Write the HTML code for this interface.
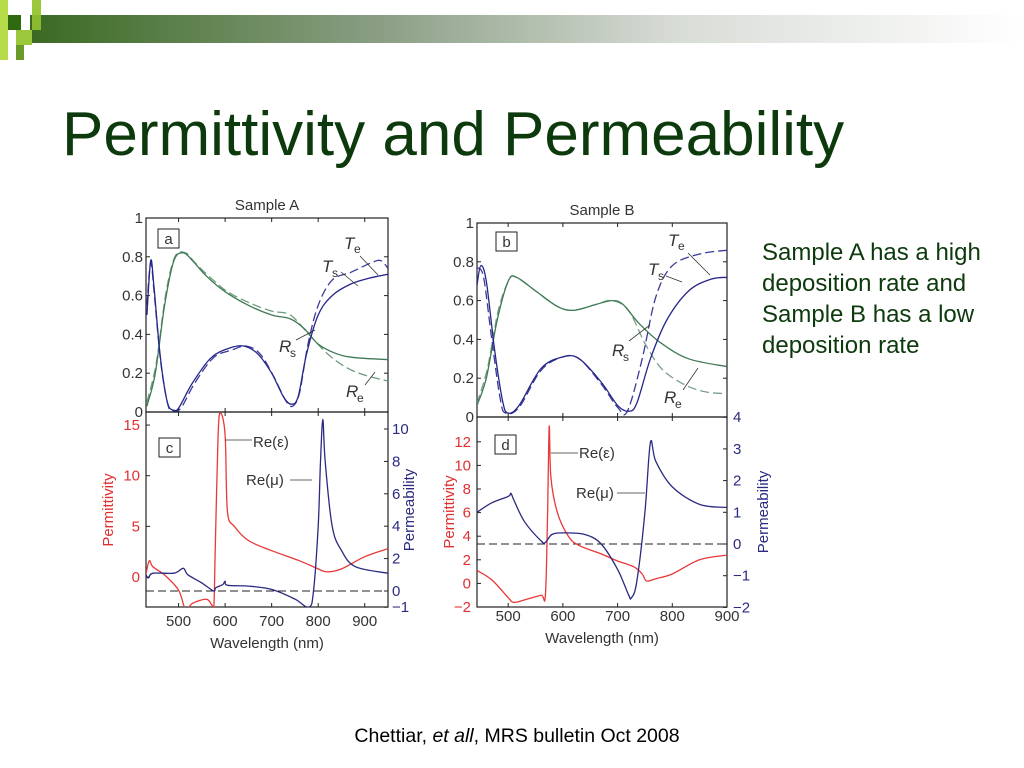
<!DOCTYPE html>
<html><head><meta charset="utf-8"><style>
body{margin:0;width:1024px;height:768px;background:#fff;overflow:hidden;font-family:"Liberation Sans",sans-serif}
svg{position:absolute;left:0;top:0}
</style></head><body>
<svg id="s" width="1024" height="768">
<defs>
<linearGradient id="g" x1="0" x2="1"><stop offset="0" stop-color="#3a6a22"/><stop offset="0.35" stop-color="#8a9e84"/><stop offset="0.65" stop-color="#d8dcd6"/><stop offset="1" stop-color="#fff"/></linearGradient>
</defs>
<g>
<rect x="30" y="15" width="994" height="28" fill="url(#g)"/>
<rect x="0" y="0" width="8" height="60" fill="#b6dc4a"/>
<rect x="32" y="0" width="9" height="15" fill="#9bc83a"/>
<rect x="8" y="15" width="13" height="15" fill="#2f6a10"/>
<rect x="32" y="15" width="9" height="15" fill="#8ab82e"/>
<rect x="16" y="30" width="16" height="15" fill="#9bc83a"/>
<rect x="16" y="45" width="8" height="15" fill="#6a9a2a"/>
</g>
<text x="62" y="155" font-size="62" fill="#0d3a0d">Permittivity and Permeability</text>
<g font-size="24" fill="#0d3a0d">
<text x="762" y="260">Sample A has a high</text>
<text x="762" y="291">deposition rate and</text>
<text x="762" y="322">Sample B has a low</text>
<text x="762" y="353">deposition rate</text>
</g>
<text x="517" y="742" font-size="19.5" text-anchor="middle" fill="#000">Chettiar, <tspan font-style="italic">et all</tspan>, MRS bulletin Oct 2008</text>
<g id="charts"></g>
</svg>
<script>
// Panel a (Sample A) data [wavelength, value]
const aTs=[[432,0.5],[440,0.78],[447,0.65],[460,0.3],[475,0.06],[487,0.01],[500,0.02],[530,0.15],[570,0.28],[610,0.33],[640,0.34],[670,0.30],[700,0.20],[725,0.08],[742,0.04],[757,0.08],[775,0.3],[800,0.5],[830,0.6],[870,0.66],[910,0.69],[950,0.71]];
const aTd=[[432,0.55],[440,0.77],[448,0.6],[462,0.25],[478,0.03],[490,0.01],[505,0.02],[535,0.15],[575,0.28],[615,0.32],[645,0.34],[675,0.30],[705,0.18],[730,0.06],[745,0.03],[760,0.1],[778,0.35],[800,0.55],[830,0.68],[870,0.72],[915,0.77],[935,0.78],[950,0.74]];
const aRs=[[432,0.03],[450,0.2],[470,0.55],[490,0.78],[510,0.82],[530,0.78],[560,0.7],[600,0.62],[650,0.55],[700,0.5],[740,0.48],[770,0.43],[800,0.35],[840,0.3],[880,0.28],[950,0.27]];
const aRd=[[432,0.05],[452,0.25],[472,0.6],[492,0.8],[515,0.82],[535,0.77],[565,0.7],[605,0.62],[655,0.56],[700,0.52],[740,0.5],[780,0.4],[820,0.3],[860,0.23],[900,0.19],[950,0.16]];
// Panel b (Sample B)
const bTs=[[443,0.68],[450,0.78],[460,0.7],[475,0.35],[490,0.08],[500,0.02],[520,0.06],[560,0.25],[600,0.31],[630,0.3],[670,0.18],[700,0.06],[720,0.03],[735,0.07],[760,0.3],[790,0.5],[830,0.65],[870,0.71],[900,0.72]];
const bTd=[[443,0.77],[455,0.72],[470,0.4],[485,0.1],[495,0.02],[520,0.05],[560,0.24],[600,0.31],[630,0.3],[670,0.17],[700,0.05],[718,0.03],[745,0.3],[770,0.62],[800,0.78],[850,0.84],[900,0.86]];
const bRs=[[443,0.06],[460,0.2],[480,0.5],[500,0.7],[515,0.72],[550,0.65],[590,0.57],[620,0.55],[660,0.58],[690,0.6],[710,0.58],[740,0.48],[780,0.38],[830,0.3],[900,0.26]];
const bRd=[[443,0.07],[462,0.25],[482,0.55],[502,0.71],[515,0.72],[550,0.65],[590,0.57],[620,0.55],[660,0.58],[690,0.6],[720,0.55],[750,0.38],[780,0.25],[820,0.17],[860,0.13],[900,0.12]];
// Panel c
const cEps=[[430,0.3],[437,1.6],[445,1.0],[470,0.2],[500,-1.3],[515,-3.2],[530,-2.6],[560,-2.2],[572,-2.8],[576,-2.8],[579,3],[585,14],[590,16.2],[600,14],[605,6.5],[620,5.0],[650,3.6],[700,2.6],[760,1.6],[800,0.8],[820,0.5],[850,0.8],[900,2.0],[950,2.8]];
const cMu=[[430,1.0],[435,0.8],[445,1.1],[490,1.1],[510,1.4],[520,1.0],[550,0.5],[575,0],[580,0.2],[595,0.4],[600,0.6],[605,0.35],[650,0.3],[700,0.1],[750,-0.5],[780,-1.0],[790,0],[800,4],[805,8],[810,10.6],[815,8],[830,4],[850,2.5],[880,1.5],[950,1.1]];
// Panel d
const dEps=[[443,1.1],[470,0.3],[500,-1.2],[510,-1.6],[530,-1.4],[560,-1.0],[568,-1.0],[572,6],[575,13.3],[578,9],[590,6],[610,4],[630,3.2],[670,2.5],[700,1.9],[730,1.4],[745,0.8],[753,0.2],[770,0.4],[800,0.8],[850,2.0],[900,2.4]];
const dMu=[[443,1.0],[470,1.3],[500,1.5],[505,1.6],[510,1.4],[530,0.7],[560,0.1],[568,0.05],[580,0.3],[600,0.35],[640,0.3],[670,0.0],[700,-0.8],[720,-1.6],[725,-1.7],[735,-1.2],[750,1.0],[760,3.2],[770,2.6],[800,1.8],[850,1.25],[900,1.15]];
const xTicks=[500,600,700,800,900];
const rTicks=[0,0.2,0.4,0.6,0.8,1];
const cLeftTicks=[0,5,10,15], cRightTicks=[-1,0,2,4,6,8,10];
const dLeftTicks=[-2,0,2,4,6,8,10,12], dRightTicks=[-2,-1,0,1,2,3,4];

const NS="http://www.w3.org/2000/svg";
const root=document.getElementById('charts');
function el(t,a,p){const e=document.createElementNS(NS,t);for(const k in a)e.setAttribute(k,a[k]);(p||root).appendChild(e);return e;}
function txt(x,y,s,a,p){const e=el('text',Object.assign({x:x,y:y,'font-size':15,fill:'#333'},a),p);e.textContent=s;return e;}
function path(pts,sx,sy){const P=pts.map(p=>[sx(p[0]),sy(p[1])]);
 let d='M'+P[0][0].toFixed(1)+','+P[0][1].toFixed(1);
 for(let i=0;i<P.length-1;i++){const p0=P[Math.max(0,i-1)],p1=P[i],p2=P[i+1],p3=P[Math.min(P.length-1,i+2)];
  const c1=[p1[0]+(p2[0]-p0[0])/6,p1[1]+(p2[1]-p0[1])/6],c2=[p2[0]-(p3[0]-p1[0])/6,p2[1]-(p3[1]-p1[1])/6];
  d+='C'+c1.map(v=>v.toFixed(1))+' '+c2.map(v=>v.toFixed(1))+' '+p2[0].toFixed(1)+','+p2[1].toFixed(1);}
 return d;}
let clipId=0;
function frame(x0,x1,y0,y1,name){const g=el('g',{});
 const id='c'+(clipId++);const cp=el('clipPath',{id:id},g);el('rect',{x:x0,y:y0,width:x1-x0,height:y1-y0},cp);
 el('rect',{x:x0,y:y0,width:x1-x0,height:y1-y0,fill:'none',stroke:'#222','stroke-width':1.2},g);return [g,id];}
function line(g,id,data,sx,sy,color,dash,name){const p=el('path',{d:path(data,sx,sy),fill:'none',stroke:color,'stroke-width':1.3,'clip-path':'url(#'+id+')'},g);
 if(dash)p.setAttribute('stroke-dasharray','9,4');
 }
function xtick(g,sx,y0,y1,lab,yl){xTicks.forEach(v=>{const x=sx(v);el('line',{x1:x,x2:x,y1:y1,y2:y1-4,stroke:'#222'},g);el('line',{x1:x,x2:x,y1:y0,y2:y0+4,stroke:'#222'},g);
 if(lab){const t=txt(x,yl,String(v),{'text-anchor':'middle'},g);}});}
function labelBox(g,x,y,s){el('rect',{x:x,y:y,width:21,height:19,fill:'#fff',stroke:'#222'},g);txt(x+10.5,y+15,s,{'text-anchor':'middle'},g);}
function callout(g,x1,y1,x2,y2){el('line',{x1:x1,y1:y1,x2:x2,y2:y2,stroke:'#333','stroke-width':0.8},g);}

// ---- Panel a
(function(){const X0=146,X1=388,Y0=218,Y1=412;const sx=w=>X0+(w-430)*(X1-X0)/520,sy=v=>Y1-v*(Y1-Y0);
 const [g,id]=frame(X0,X1,Y0,Y1,'panel-a');
 txt(267,210,'Sample A',{'text-anchor':'middle'},g);
 rTicks.forEach(v=>{const y=sy(v);el('line',{x1:X0,x2:X0+4,y1:y,y2:y,stroke:'#222'},g);el('line',{x1:X1,x2:X1-4,y1:y,y2:y,stroke:'#222'},g);txt(X0-3,y+5,String(v),{'text-anchor':'end'},g);});
 xtick(g,sx,Y0,Y1,false);
 line(g,id,aRd,sx,sy,'#6a9a7a',true,'re-dashed-a');line(g,id,aRs,sx,sy,'#3f7a55',false,'rs-line-a');
 line(g,id,aTd,sx,sy,'#3a3a9a',true,'te-dashed-a');line(g,id,aTs,sx,sy,'#26268a',false,'ts-line-a');
 labelBox(g,158,229,'a');
 txt(344,249,'T',{'font-style':'italic','font-size':17},g);txt(354,253,'e',{'font-size':12},g);
 txt(322,272,'T',{'font-style':'italic','font-size':17},g);txt(332,277,'s',{'font-size':12},g);
 txt(279,352,'R',{'font-style':'italic','font-size':17},g);txt(290,357,'s',{'font-size':12},g);
 txt(346,397,'R',{'font-style':'italic','font-size':17},g);txt(357,402,'e',{'font-size':12},g);
 callout(g,360,256,378,275);callout(g,341,272,358,286);callout(g,296,340,315,330);callout(g,365,385,375,372);
})();
// ---- Panel b
(function(){const X0=477,X1=727,Y0=223,Y1=417;const sx=w=>X0+(w-443)*(X1-X0)/457,sy=v=>Y1-v*(Y1-Y0);
 const [g,id]=frame(X0,X1,Y0,Y1,'panel-b');
 txt(602,215,'Sample B',{'text-anchor':'middle'},g);
 rTicks.forEach(v=>{const y=sy(v);el('line',{x1:X0,x2:X0+4,y1:y,y2:y,stroke:'#222'},g);el('line',{x1:X1,x2:X1-4,y1:y,y2:y,stroke:'#222'},g);txt(X0-3,y+5,String(v),{'text-anchor':'end'},g);});
 xtick(g,sx,Y0,Y1,false);
 line(g,id,bRd,sx,sy,'#7aa08a',true,'re-dashed-b');line(g,id,bRs,sx,sy,'#3f7a55',false,'rs-line-b');
 line(g,id,bTd,sx,sy,'#3a3a9a',true,'te-dashed-b');line(g,id,bTs,sx,sy,'#26268a',false,'ts-line-b');
 labelBox(g,496,232,'b');
 txt(668,246,'T',{'font-style':'italic','font-size':17},g);txt(678,250,'e',{'font-size':12},g);
 txt(648,275,'T',{'font-style':'italic','font-size':17},g);txt(658,280,'s',{'font-size':12},g);
 txt(612,356,'R',{'font-style':'italic','font-size':17},g);txt(623,361,'s',{'font-size':12},g);
 txt(664,403,'R',{'font-style':'italic','font-size':17},g);txt(675,408,'e',{'font-size':12},g);
 callout(g,688,253,710,275);callout(g,666,276,682,282);callout(g,629,341,650,325);callout(g,683,390,698,368);
})();
// ---- Panel c
(function(){const X0=146,X1=388,Y0=412,Y1=607;const sx=w=>X0+(w-430)*(X1-X0)/520;
 const sl=v=>577-v*10.13, sr=v=>591-v*16.2;
 const [g,id]=frame(X0,X1,Y0,Y1,'panel-c');
 cLeftTicks.forEach(v=>{const y=sl(v);el('line',{x1:X0,x2:X0+4,y1:y,y2:y,stroke:'#222'},g);txt(X0-6,y+5,String(v),{'text-anchor':'end',fill:'#e03030'},g);});
 cRightTicks.forEach(v=>{const y=sr(v);el('line',{x1:X1,x2:X1-4,y1:y,y2:y,stroke:'#222'},g);txt(X1+4,y+5,v<0?'\u2212'+(-v):String(v),{fill:'#2a2a80'},g);});
 xtick(g,sx,Y0,Y1,true,626);
 el('line',{x1:X0,x2:X1,y1:sr(0),y2:sr(0),stroke:'#222','stroke-dasharray':'8,4'},g);
 line(g,id,cEps,sx,sl,'#e83838',false,'permittivity-line-c');line(g,id,cMu,sx,sr,'#2a2a80',false,'permeability-line-c');
 labelBox(g,159,438,'c');
 txt(253,447,'Re(\u03b5)',{},g);callout(g,225,440,252,440);
 txt(246,485,'Re(\u03bc)',{},g);callout(g,290,480,312,480);
 txt(267,648,'Wavelength (nm)',{'text-anchor':'middle'},g);
 txt(0,0,'Permittivity',{transform:'translate(113,510) rotate(-90)','text-anchor':'middle',fill:'#e03030'},g);
 txt(0,0,'Permeability',{transform:'translate(414,510) rotate(-90)','text-anchor':'middle',fill:'#2a2a80'},g);
})();
// ---- Panel d
(function(){const X0=477,X1=727,Y0=417,Y1=607;const sx=w=>X0+(w-443)*(X1-X0)/457;
 const sl=v=>583.4-v*11.8, sr=v=>544-v*31.7;
 const [g,id]=frame(X0,X1,Y0,Y1,'panel-d');
 dLeftTicks.forEach(v=>{const y=sl(v);el('line',{x1:X0,x2:X0+4,y1:y,y2:y,stroke:'#222'},g);txt(X0-6,y+5,v<0?'\u2212'+(-v):String(v),{'text-anchor':'end',fill:'#e03030'},g);});
 dRightTicks.forEach(v=>{const y=sr(v);el('line',{x1:X1,x2:X1-4,y1:y,y2:y,stroke:'#222'},g);txt(X1+6,y+5,v<0?'\u2212'+(-v):String(v),{fill:'#2a2a80'},g);});
 xtick(g,sx,Y0,Y1,true,621);
 el('line',{x1:X0,x2:X1,y1:sr(0),y2:sr(0),stroke:'#222','stroke-dasharray':'8,4'},g);
 line(g,id,dEps,sx,sl,'#e83838',false,'permittivity-line-d');line(g,id,dMu,sx,sr,'#2a2a80',false,'permeability-line-d');
 labelBox(g,495,435,'d');
 txt(579,458,'Re(\u03b5)',{},g);callout(g,551,453,578,453);
 txt(576,498,'Re(\u03bc)',{},g);callout(g,617,493,645,493);
 txt(602,643,'Wavelength (nm)',{'text-anchor':'middle'},g);
 txt(0,0,'Permittivity',{transform:'translate(454,512) rotate(-90)','text-anchor':'middle',fill:'#e03030'},g);
 txt(0,0,'Permeability',{transform:'translate(768,512) rotate(-90)','text-anchor':'middle',fill:'#2a2a80'},g);
})();
</script>
</body></html>
